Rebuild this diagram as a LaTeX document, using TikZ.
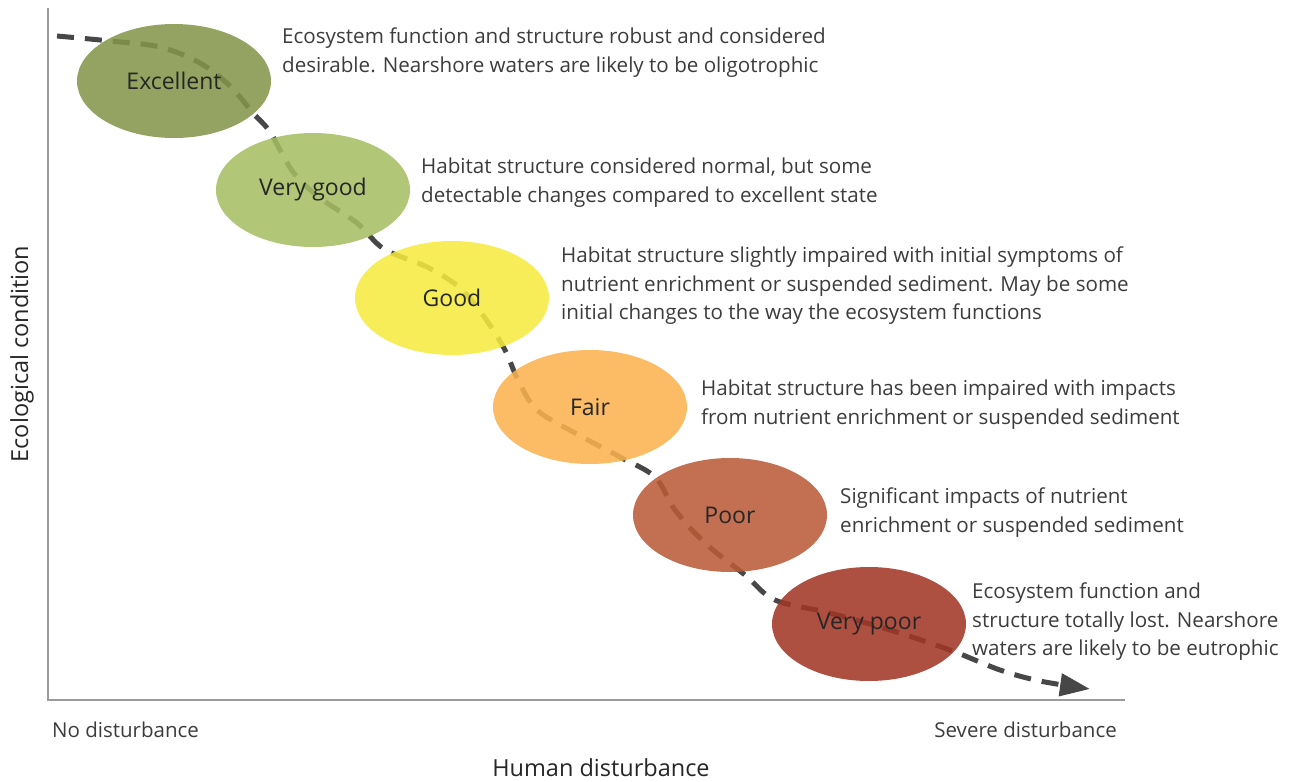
\documentclass[tikz,border=0pt]{standalone}
\usepackage{fontspec}
\setmainfont{Open Sans}
\usetikzlibrary{arrows.meta,shapes.geometric}
\definecolor{cEx}{HTML}{84954A}
\definecolor{cVg}{HTML}{A5BE62}
\definecolor{cGd}{HTML}{F5EA40}
\definecolor{cFr}{HTML}{FAB24E}
\definecolor{cPr}{HTML}{BA5B38}
\definecolor{cVp}{HTML}{A13525}
\definecolor{txt}{HTML}{3C3C3C}
\definecolor{axisc}{HTML}{9A9A9A}
\definecolor{dashc}{HTML}{474747}
\tikzset{
  ell/.style={ellipse, draw=none, inner sep=0pt, minimum width=194pt, minimum height=114pt,
     fill opacity=0.87, text opacity=1, text=black!85, font=\fontsize{23}{26}\selectfont},
  desc/.style={anchor=north west, inner sep=0pt, align=left, text=txt,
     font=\fontsize{20.6}{28.5}\selectfont},
  axlab/.style={inner sep=0pt, text=txt, font=\fontsize{20.5}{24}\selectfont},
  axtitle/.style={inner sep=0pt, text=black!85, font=\fontsize{23.5}{26}\selectfont},
  curve/.style={draw=dashc, line width=5pt, dash pattern=on 17pt off 11pt}
}
\begin{document}
\begin{tikzpicture}[x=1pt,y=-1pt]
\useasboundingbox (0,0) rectangle (1291,782);
% axes
\coordinate (top) at (48,8);
\coordinate (origin) at (48,700);
\coordinate (right) at (1125,700);
\draw[axisc, line width=2pt] (top) -- (origin) -- (right);
% dashed curve
\coordinate (cstart) at (57,36);
\coordinate (cend) at (1090,689);
\draw[curve, -{Triangle[length=30pt,width=22pt]}] plot[smooth, tension=0.55] coordinates {
 (57,36) (110,41) (160,47) (200,63) (230,86) (253,113) (270,132) (293,172) (320,198)
 (357,223) (384,249) (427,267) (460,288) (485,318) (505,350) (518,380) (537,410)
 (575,433) (620,457) (655,477) (675,510) (705,543) (745,575) (775,600) (830,613)
 (890,630) (950,650) (1000,670) (1040,681) (1090,689)};
% ellipses
\node[ell, fill=cEx] (ex) at (174,81) {Excellent};
\node[ell, fill=cVg] (vg) at (313,190) {Very good};
\node[ell, fill=cGd] (gd) at (452,298) {Good};
\node[ell, fill=cFr] (fr) at (590,407) {Fair};
\node[ell, fill=cPr] (pr) at (730,515) {Poor};
\node[ell, fill=cVp] (vp) at (869,624) {Very poor};
% descriptions
\node[desc] (d1) at (282,28) {Ecosystem function and structure robust and considered\\desirable. Nearshore waters are likely to be oligotrophic};
\node[desc] (d2) at (421,158) {Habitat structure considered normal, but some\\detectable changes compared to excellent state};
\node[desc] (d3) at (561,247) {Habitat structure slightly impaired with initial symptoms of\\nutrient enrichment or suspended sediment. May be some\\initial changes to the way the ecosystem functions};
\node[desc] (d4) at (701,380) {Habitat structure has been impaired with impacts\\from nutrient enrichment or suspended sediment};
\node[desc] (d5) at (840,488) {Significant impacts of nutrient\\enrichment or suspended sediment};
\node[desc] (d6) at (972,583) {Ecosystem function and\\structure totally lost. Nearshore\\waters are likely to be eutrophic};
% axis labels
\node[axlab, anchor=west] (nod) at (52,730) {No disturbance};
\node[axlab, anchor=east] (sev) at (1117,730) {Severe disturbance};
\node[axtitle] (hum) at (601,768) {Human disturbance};
\node[axtitle, rotate=90] (eco) at (22,354) {Ecological condition};
\end{tikzpicture}
\end{document}
